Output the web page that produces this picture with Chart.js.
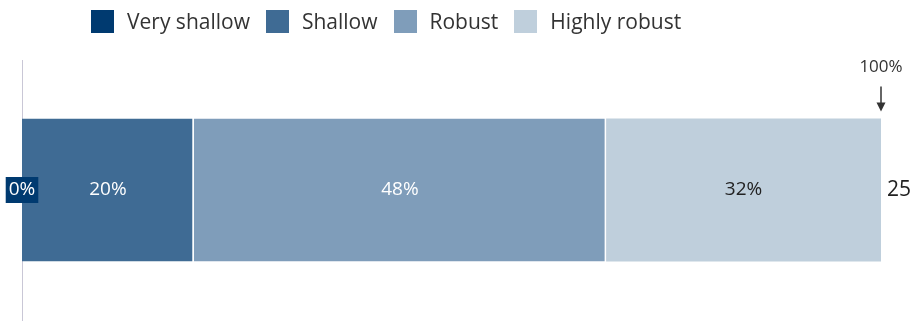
<!DOCTYPE html>
<html>
<head>
<meta charset="utf-8">
<script src="https://cdn.jsdelivr.net/npm/chart.js@4/dist/chart.umd.min.js"></script>
<style>
  html, body { margin: 0; padding: 0; background: #fff; }
  #wrap { position: relative; width: 912px; height: 322px; overflow: hidden; }
  #legend { position: absolute; left: 91px; top: 7px; display: flex; align-items: center;
            font-family: "Open Sans", sans-serif; font-size: 21px; color: #333; }
  #legend .it { display: flex; align-items: center; margin-right: 16px; }
  #legend .sw { width: 23px; height: 23px; margin-right: 13px; }
</style>
</head>
<body>
<div id="wrap">
  <canvas id="c" width="912" height="322"></canvas>
  <div id="legend"></div>
</div>
<script>
// Single stacked bar — share of responses by robustness band
const categories = ['All'];
const seriesNames = ['Very shallow', 'Shallow', 'Robust', 'Highly robust'];
const seriesValues = [[0], [20], [48], [32]];
const seriesColors = ['#003a70', '#3f6b94', '#7f9dba', '#bfcfdc'];
const labelColors = ['#ffffff', '#ffffff', '#ffffff', '#222222'];
const totalLabels = ['25'];
const endMarker = { value: 100, text: '100%' };

const FONT = '"Open Sans", sans-serif';

// html legend (offset left like the original)
document.getElementById('legend').innerHTML = seriesNames.map((n, i) =>
  `<div class="it"><span class="sw" style="background:${seriesColors[i]}"></span><span>${n}</span></div>`).join('');

// value labels inside segments, count at end, 100% marker
const labelsPlugin = {
  id: 'labels',
  afterDatasetsDraw(chart) {
    const { ctx } = chart;
    const xs = chart.scales.x;
    ctx.save();
    ctx.font = `19px ${FONT}`;
    ctx.textBaseline = 'middle';
    ctx.textAlign = 'center';
    chart.data.datasets.forEach((ds, i) => {
      chart.getDatasetMeta(i).data.forEach((bar, j) => {
        const v = ds.data[j];
        const txt = v + '%';
        if (v === 0) {
          const w = ctx.measureText(txt).width + 6;
          ctx.fillStyle = seriesColors[i];
          ctx.fillRect(bar.x - w / 2, bar.y - 13, w, 26);
        }
        ctx.fillStyle = labelColors[i];
        ctx.fillText(txt, (bar.x + bar.base) / 2, bar.y);
      });
    });
    // totals after the bar
    const last = chart.getDatasetMeta(chart.data.datasets.length - 1).data;
    ctx.font = `21px ${FONT}`;
    ctx.textAlign = 'left';
    ctx.fillStyle = '#222';
    last.forEach((bar, j) => ctx.fillText(totalLabels[j], bar.x + 6, bar.y));
    // 100% marker with arrow
    const mx = xs.getPixelForValue(endMarker.value);
    const top = last[0].y - last[0].height / 2;
    ctx.font = `17px ${FONT}`;
    ctx.textAlign = 'center';
    ctx.fillStyle = '#333';
    ctx.fillText(endMarker.text, mx, top - 51);
    ctx.strokeStyle = '#333';
    ctx.lineWidth = 1.5;
    ctx.beginPath();
    ctx.moveTo(mx, top - 32);
    ctx.lineTo(mx, top - 14);
    ctx.stroke();
    ctx.beginPath();
    ctx.moveTo(mx - 4.5, top - 16);
    ctx.lineTo(mx + 4.5, top - 16);
    ctx.lineTo(mx, top - 7);
    ctx.closePath();
    ctx.fill();
    ctx.restore();
  }
};

new Chart(document.getElementById('c'), {
  type: 'bar',
  data: {
    labels: categories,
    datasets: seriesNames.map((n, i) => ({
      label: n,
      data: seriesValues[i],
      backgroundColor: seriesColors[i],
      borderColor: '#ffffff',
      borderWidth: { left: 0, right: i === seriesNames.length - 1 ? 0 : 1.5, top: 0, bottom: 0 },
      borderSkipped: false,
      barPercentage: 0.55,
      categoryPercentage: 1,
    })),
  },
  options: {
    indexAxis: 'y',
    responsive: false,
    animation: false,
    layout: { padding: { left: 22, right: 31, top: 60, bottom: 2 } },
    plugins: { legend: { display: false }, tooltip: { enabled: false } },
    scales: {
      x: { stacked: true, min: 0, max: 100, display: false },
      y: {
        stacked: true,
        ticks: { display: false },
        grid: { display: false, drawTicks: false },
        border: { display: true, color: '#c9c7d6', width: 1 },
        afterFit(s) { s.width = 0; },
      },
    },
  },
  plugins: [labelsPlugin],
});
</script>
</body>
</html>
